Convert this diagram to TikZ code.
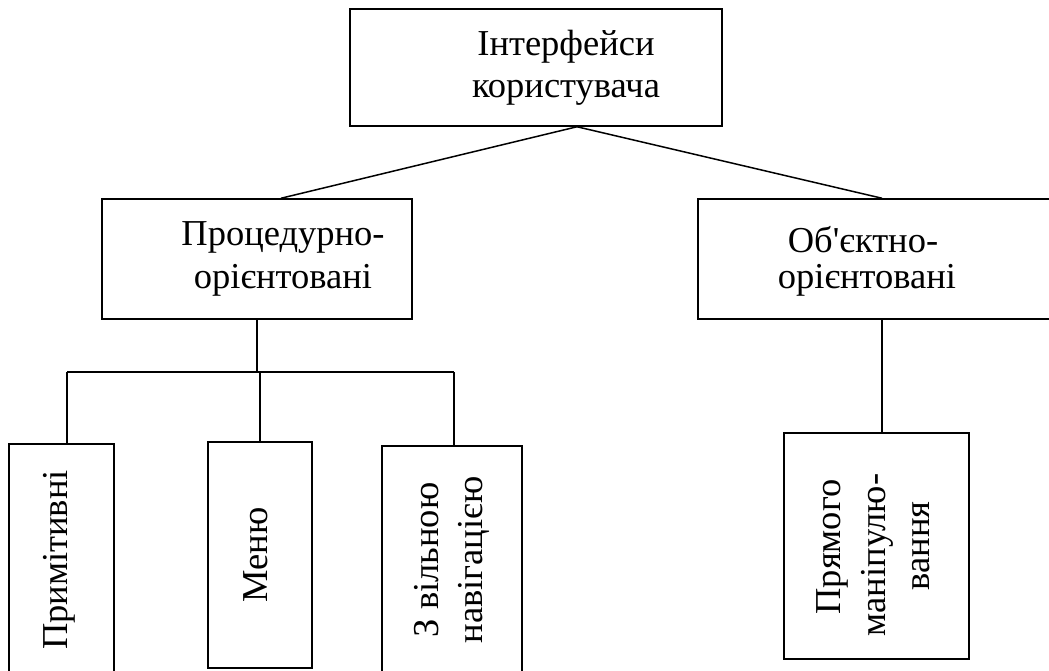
\documentclass[tikz,border=0pt]{standalone}
\usepackage{fontspec}
\setmainfont{Liberation Serif}[Ligatures=TeXOff]
\begin{document}
\begin{tikzpicture}[x=1pt,y=-1pt,
  box/.style={draw, line width=1.5pt, inner sep=0pt},
  conn/.style={line width=1.5pt},
  lbl/.style={anchor=base, inner sep=0pt, font=\fontsize{36.5}{42}\selectfont},
  vlbl/.style={lbl, rotate=90}]
\useasboundingbox (0,0) rectangle (1049,670);
\clip (0,0) rectangle (1049,670);
% boxes
\node[box, minimum width=372pt, minimum height=117pt] (top) at (536,67.5) {};
\node[box, minimum width=310pt, minimum height=120pt] (proc) at (257,259) {};
\node[box, minimum width=368pt, minimum height=120pt] (obj) at (882,259) {};
\node[box, minimum width=105pt, minimum height=256pt] (prim) at (61.5,572) {};
\node[box, minimum width=104pt, minimum height=226pt] (menu) at (260,555) {};
\node[box, minimum width=140pt, minimum height=254pt] (nav) at (452,573) {};
\node[box, minimum width=185pt, minimum height=226pt] (dm) at (876.5,546) {};
% texts
\node[lbl] (t1) at (566,55) {Інтерфейси};
\node[lbl] (t2) at (566,97) {користувача};
\node[lbl] (p1) at (283,245) {Процедурно-};
\node[lbl] (p2) at (283,288) {орієнтовані};
\node[lbl] (o1) at (863,252) {Об'єктно-};
\node[lbl] (o2) at (867,288) {орієнтовані};
\node[vlbl] (pr) at (67,560) {Примітивні};
\node[vlbl] (me) at (267,555) {Меню};
\node[vlbl] (n1) at (438,560) {З вільною};
\node[vlbl] (n2) at (482,560) {навігацією};
\node[vlbl] (d1) at (840,547) {Прямого};
\node[vlbl] (d2) at (885,555) {маніпулю-};
\node[vlbl] (d3) at (929,546) {вання};
% connectors
\coordinate (apex) at ([xshift=41pt]top.south);
\draw[conn] (apex) -- ([xshift=24pt]proc.north);
\draw[conn] (apex) -- (obj.north);
\coordinate (bL) at (67,372);
\coordinate (bR) at (454,372);
\draw[conn] (proc.south) -- (proc.south |- bL);
\draw[conn] (bL) -- (bR);
\draw[conn] (bL) -- (bL |- prim.north);
\draw[conn] (menu.north |- bL) -- (menu.north);
\draw[conn] (bR) -- (bR |- nav.north);
\draw[conn] (obj.south) -- (obj.south |- dm.north);
\end{tikzpicture}
\end{document}
